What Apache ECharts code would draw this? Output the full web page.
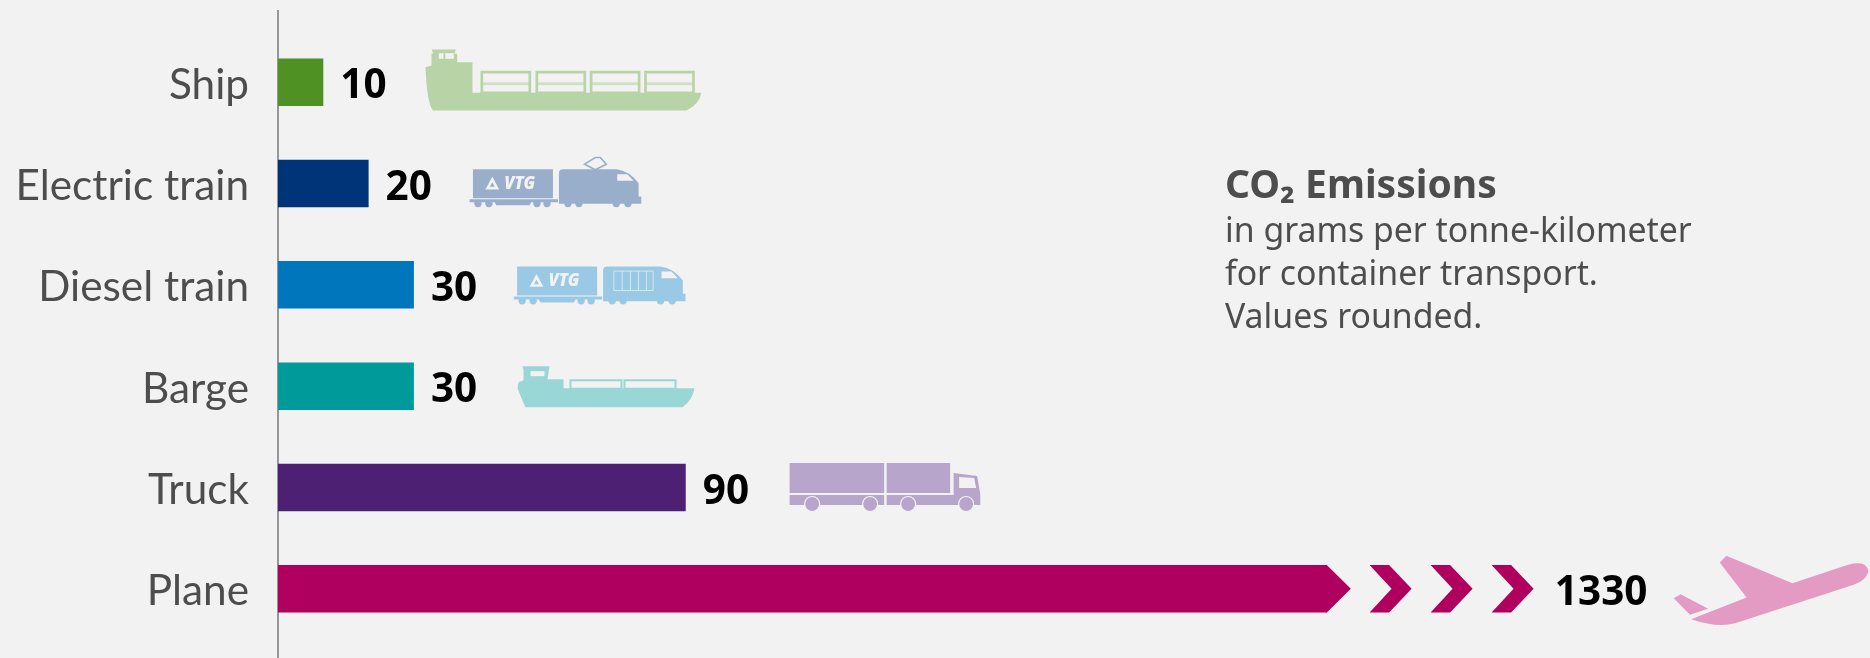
<!DOCTYPE html>
<html><head><meta charset="utf-8">
<style>html,body{margin:0;padding:0;background:#f2f2f2}#c{width:1870px;height:658px}</style>
<script src="https://cdn.jsdelivr.net/npm/echarts@6/dist/echarts.min.js"></script></head>
<body><div id="c"></div><script>
const categories = ['Ship','Electric train','Diesel train','Barge','Truck','Plane'];
const emissions = [10,20,30,30,90,1330];
const barColors = ['#4f9223','#003478','#0077bd','#009a9b','#4d2074','#b0005f'];
const iconTints = ['#b8d3a5','#99aecb','#99c9e5','#99d7d7','#b8a5cb','#e39bc3'];
const axisCut = 231.5;            // the plane's bar is broken off here
const note = ['in grams per tonne-kilometer','for container transport.','Values rounded.'];
const BG = '#f2f2f2', TEXT = '#4d4d4d';
const LABEL = 'Lato,"Noto Sans",sans-serif';
const HUMAN = '"Noto Sans",sans-serif';

const fill = d => ({d, k:'t'});
const hole = d => ({d, k:'b'});
const line = (d,w) => ({d, k:'s', w});
const faint = (d,w) => ({d, k:'f', w});
const mid = (d,w) => ({d, k:'m', w});
const rect = (x,y,w,h) => `M${x},${y}L${x+w},${y}L${x+w},${y+h}L${x},${y+h}Z`;
const circ = (x,y,r) => `M${x-r},${y}A${r},${r},0,1,1,${x+r},${y}A${r},${r},0,1,1,${x-r},${y}Z`;

const trainBase = [
  fill(rect(40,73,240,87)),
  fill('M30,163L295,163L295,172L215,172L210,181L110,181L105,172L30,172Z'),
  ...[55,88,232,262,325,358,470,505].map(x=>fill(circ(x,176,11))),
  fill('M298,85Q298,73 310,73L470,73Q510,78 537,115L537,155L545,155L545,177L298,177Z'),
  {logo:[98,118]},
  {t:'VTG',x:134,y:118}
];
const ICONS = [
 {s:1/3,dx:96.5,dy:-51.7,parts:[
   fill('M17,110L35,105L35,70L40,70L36,57L108,57L104,70L112,70L112,95L158,95L158,187L845,187Q838,222 800,240L40,240Q22,222 17,110Z'),
   hole(rect(57,68,14,17)),hole(rect(76,68,26,17)),
   ...[182,347,510,673].map(x=>line(rect(x+4,125,144,62),8)),
   ...[182,347,510,673].map(x=>mid(`M${x+4},160L${x+148},160`,9))
 ]},
 {s:1/3,dx:91,dy:-38.7,parts:[
   ...trainBase,
   hole('M473,88L503,88L522,108L473,108Z'),
   line('M407,38L422,38L440,58L407,75L375,58Z',5)
 ]},
 {s:1/3,dx:89.9,dy:-42.7,parts:[
   ...trainBase,
   hole('M473,88L503,88L522,108L473,108Z'),
   faint(rect(330,87,118,58)+'M355,87L355,145M380,87L380,145M404,87L404,145M428,87L428,145',3)
 ]},
 {s:1,dx:103.6,dy:-20,parts:[
   fill('M1,16L6,14L6,4L5,0L32,0L30,13L46,13L46,22L177,22Q175,34 165,41L8,41Q3,30 0,22Z'),
   hole(rect(13,5,14,5)),
   line(rect(53,14,51,8.5),2),line(rect(107,14,51,8.5),2)
 ]},
 {s:1,dx:103.4,dy:-24.5,parts:[
   fill(rect(0.5,0,94.5,30)),fill(rect(97.5,0,63.5,30)),
   fill(rect(0.5,32,94.5,10)),fill(rect(97.5,32,93.5,10)),
   fill('M164.5,10L188,13L191,30L191,42L164.5,42Z'),
   hole('M170,14L185,15L187,25L170,25Z'),
   ...[23,81,119,177].map(x=>({d:circ(x,41,7.5),k:'w'}))
 ]},
 {s:1,dx:343.3,dy:-39,parts:[
   fill('M3.7,48.3L10.6,44.3L38,59L19.8,65Z'),
   fill('M21,69.3L76.5,47.7L49.7,12.7L56.2,6L122.4,33.3L177.9,15Q197,10 198.2,21.7Q197,30 183.6,35L65,73.3Q47.8,78.3 21,69.3Z')
 ]}
];

function partEl(p, tint){
  if(p.t) return {type:'text',style:{text:p.t,x:p.x,y:p.y,fill:BG,font:'italic 900 50px '+HUMAN,verticalAlign:'middle',textVerticalAlign:'middle'}};
  if(p.logo) return {type:'path',shape:{pathData:`M${p.logo[0]},${p.logo[1]-14}L${p.logo[0]+14},${p.logo[1]+12}L${p.logo[0]-14},${p.logo[1]+12}Z`},style:{fill:'none',stroke:BG,lineWidth:8}};
  const style = p.k==='t'?{fill:tint}
    :p.k==='b'?{fill:BG}
    :p.k==='w'?{fill:tint,stroke:BG,lineWidth:1.2}
    :p.k==='f'?{fill:'none',stroke:'#ffffff',lineWidth:p.w,opacity:0.55}
    :p.k==='m'?{fill:'none',stroke:tint,lineWidth:p.w,opacity:0.6}
    :{fill:'none',stroke:tint,lineWidth:p.w};
  return {type:'path',shape:{pathData:p.d},style};
}
const plotted = emissions.map(v=>Math.min(v,axisCut));
const planeIdx = categories.indexOf('Plane');

const chart = echarts.init(document.getElementById('c'),null,{renderer:'canvas'});
chart.setOption({
  backgroundColor:BG, animation:false,
  title:{text:'CO₂ Emissions',subtext:note.join('\n'),left:1225,top:164,padding:0,itemGap:1,
    textStyle:{fontFamily:HUMAN,fontWeight:'bold',fontSize:39,color:TEXT,lineHeight:46},
    subtextStyle:{fontFamily:HUMAN,fontSize:33.8,color:TEXT,lineHeight:43}},
  grid:{left:278,right:0,top:31.5,height:608,outerBoundsMode:'none'},
  xAxis:{type:'value',min:0,max:351.4,show:false},
  yAxis:{type:'category',inverse:true,data:categories,
    axisLabel:{margin:29,fontFamily:LABEL,fontSize:42.3,color:TEXT,verticalAlign:'top',lineHeight:6},
    axisLine:{show:false},axisTick:{show:false}},
  graphic:[{type:'line',shape:{x1:278,y1:10,x2:278,y2:658},style:{stroke:'#777',lineWidth:1.5}}],
  series:[
   {type:'bar',barWidth:47.5,data:plotted.map((v,i)=>({value:v,itemStyle:{color:barColors[i]},
      label:{distance:i===planeIdx?228:17}})),
    label:{show:true,position:'right',offset:[0,4.5],fontFamily:HUMAN,fontWeight:'bold',fontSize:40.5,color:'#000',
      formatter:p=>String(emissions[p.dataIndex])}},
   {type:'custom',silent:true,coordinateSystem:'cartesian2d',clip:false,
    data:plotted.map((v,i)=>[v,i]),
    renderItem(params,api){
      const i=params.dataIndex, ic=ICONS[i], c=api.coord([api.value(0),i]);
      return {type:'group',x:c[0]+ic.dx,y:c[1]+ic.dy,scaleX:ic.s,scaleY:ic.s,
        children:ic.parts.map(p=>partEl(p,iconTints[i]))};
    }},
   {type:'custom',silent:true,coordinateSystem:'cartesian2d',clip:false,
    data:[[plotted[planeIdx],planeIdx]],
    renderItem(params,api){
      const c=api.coord([api.value(0),api.value(1)]), h=47.5/2, col=barColors[planeIdx];
      const kids=[{type:'polygon',shape:{points:[[-1,-h],[0,-h],[24,0],[0,h],[-1,h]]},style:{fill:col}}];
      [42.8,103.8,164.8].forEach(x=>kids.push({type:'polygon',
        shape:{points:[[x,-h],[x+19.5,-h],[x+42,0],[x+19.5,h],[x,h],[x+22,0]]},style:{fill:col}}));
      return {type:'group',x:c[0],y:c[1],children:kids};
    }}
  ]
});
</script></body></html>
